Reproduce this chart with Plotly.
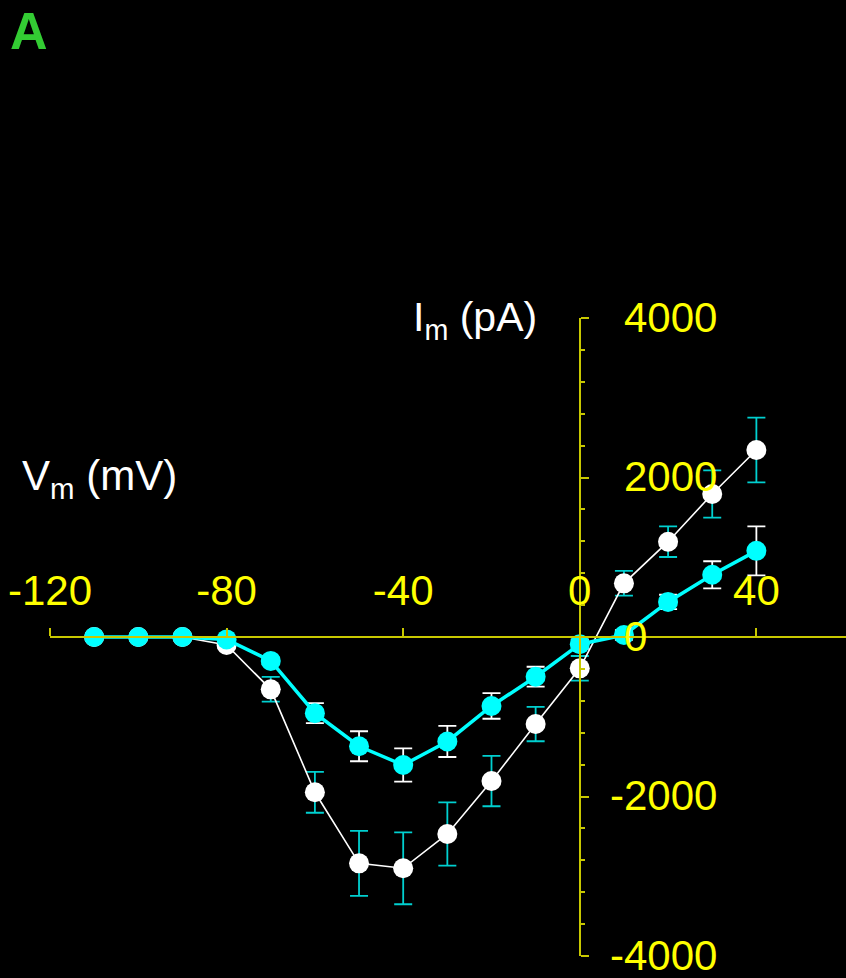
import plotly.graph_objects as go

# Membrane potential steps (mV)
vm = [-110, -100, -90, -80, -70, -60, -50, -40, -30, -20, -10, 0, 10, 20, 30, 40]

# Control current (pA) and SEM
im_ctrl = [0, 0, 0, -100, -656, -1947, -2838, -2900, -2470, -1806, -1091, -393, 673, 1195, 1793, 2345]
err_ctrl = [0, 0, 0, 40, 155, 257, 407, 451, 397, 316, 216, 155, 155, 192, 297, 405]

# Treated current (pA) and SEM
im_trt = [0, 0, 0, -30, -300, -955, -1370, -1605, -1310, -865, -498, -90, 25, 440, 780, 1080]
err_trt = [0, 0, 0, 20, 40, 125, 188, 209, 195, 160, 125, 60, 60, 90, 170, 307]

x_ticks = [-120, -80, -40, 0, 40]
y_ticks = [-4000, -2000, 0, 2000, 4000]

X_RANGE = [-120, 60.3]
Y_RANGE = [-4000, 4000]

FONT = "Liberation Sans, Arial, sans-serif"
AXIS_COLOR = "#c8c800"
LABEL_COLOR = "#ffff00"
CYAN = "#00ffff"

fig = go.Figure()

fig.add_trace(go.Scatter(
    x=vm, y=im_ctrl, mode="lines+markers",
    line=dict(color="white", width=1.6),
    marker=dict(color="white", size=20, line=dict(width=0)),
    error_y=dict(type="data", array=err_ctrl, visible=True,
                 color="#00d0d0", thickness=1.8, width=9),
    showlegend=False, hoverinfo="skip",
))

fig.add_trace(go.Scatter(
    x=vm, y=im_trt, mode="lines+markers",
    line=dict(color=CYAN, width=3.5),
    marker=dict(color=CYAN, size=20, line=dict(width=0)),
    error_y=dict(type="data", array=err_trt, visible=True,
                 color="white", thickness=1.8, width=9),
    showlegend=False, hoverinfo="skip",
))

# y-axis crosses at Vm = 0
y_axis_pos = (0 - X_RANGE[0]) / (X_RANGE[1] - X_RANGE[0])

annotations = [
    dict(text="V<sub>m</sub> (mV)", xref="paper", yref="paper",
         x=(20 - 50) / 796, y=(956 - 478) / 638, xanchor="left", yanchor="middle",
         showarrow=False, font=dict(family=FONT, size=42, color="white")),
    dict(text="I<sub>m</sub> (pA)", xref="paper", yref="paper",
         x=(411 - 50) / 796, y=(956 - 320) / 638, xanchor="left", yanchor="middle",
         showarrow=False, font=dict(family=FONT, size=41, color="white")),
    dict(text="<b>A</b>", xref="paper", yref="paper",
         x=(8 - 50) / 796, y=(956 - 31) / 638, xanchor="left", yanchor="middle",
         showarrow=False, font=dict(family=FONT, size=52, color="#33cc33")),
]

# Current tick labels: digits aligned, minus sign hanging to the left
for t in y_ticks:
    annotations.append(dict(
        text=str(t), xref="x", yref="y", x=0, y=t,
        xanchor="left", yanchor="middle",
        xshift=42 - (14 if t < 0 else 0), yshift=1,
        showarrow=False, font=dict(family=FONT, size=42, color=LABEL_COLOR),
    ))

fig.update_layout(
    width=846, height=978,
    margin=dict(l=50, r=0, t=318, b=22),
    paper_bgcolor="black", plot_bgcolor="black",
    xaxis=dict(
        range=X_RANGE, domain=[0, 1],
        anchor="free", position=0.5, side="top",
        showgrid=False, zeroline=False,
        showline=True, linecolor=AXIS_COLOR, linewidth=2,
        tickmode="array", tickvals=x_ticks, ticktext=[str(t) for t in x_ticks],
        ticks="outside", ticklen=8, tickwidth=2, tickcolor=AXIS_COLOR,
        tickfont=dict(family=FONT, size=42, color=LABEL_COLOR),
        ticklabelstandoff=6, ticklabeloverflow="allow",
    ),
    yaxis=dict(
        range=Y_RANGE, domain=[0, 1],
        anchor="free", position=y_axis_pos, side="right",
        showgrid=False, zeroline=False,
        showline=True, linecolor=AXIS_COLOR, linewidth=2,
        tickmode="array", tickvals=y_ticks,
        ticks="outside", ticklen=8, tickwidth=2, tickcolor=AXIS_COLOR,
        minor=dict(tickmode="linear", dtick=400, ticks="outside",
                   ticklen=4, tickwidth=2, tickcolor=AXIS_COLOR),
        showticklabels=False,
    ),
    annotations=annotations,
)

fig.write_html("out.html", config={"displayModeBar": False})
